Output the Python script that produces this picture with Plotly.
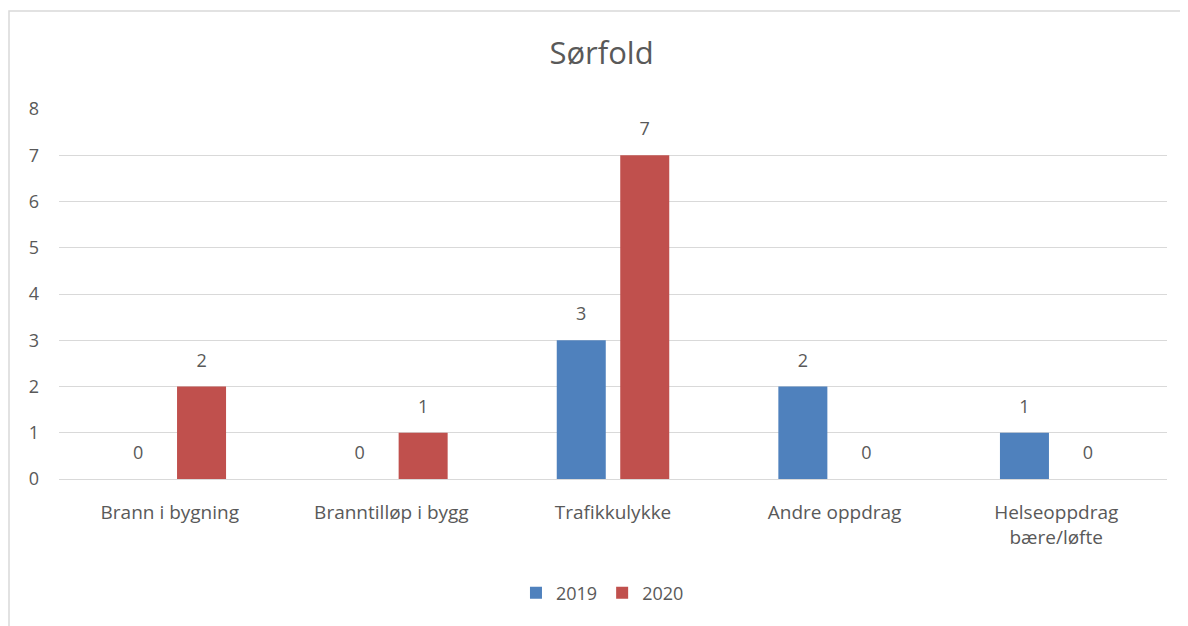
import plotly.graph_objects as go

categories = ["Brann i bygning", "Branntilløp i bygg", "Trafikkulykke", "Andre oppdrag", "Helseoppdrag<br>bære/løfte"]
series_names = ["2019", "2020"]
values_2019 = [0, 0, 3, 2, 1]
values_2020 = [2, 1, 7, 0, 0]
colors = ["#4F81BD", "#C0504D"]
y_ticks = [0, 1, 2, 3, 4, 5, 6, 7, 8]

FONT = "'Open Sans', Lato, sans-serif"
GRAY = "#595959"
FS = 18

fig = go.Figure()
all_vals = [values_2019, values_2020]
for i, (name, vals) in enumerate(zip(series_names, all_vals)):
    fig.add_trace(go.Bar(
        x=categories, y=vals, name=name, marker_color=colors[i],
        offsetgroup=str(i), marker_line_width=0,
    ))
for i, (name, vals) in enumerate(zip(series_names, all_vals)):
    fig.add_trace(go.Scatter(
        x=categories, y=vals, mode="markers+text", text=[str(v) for v in vals],
        textposition="top center", textfont=dict(family=FONT, size=FS, color=GRAY),
        marker=dict(size=23, opacity=0), showlegend=False, hoverinfo="skip",
        offsetgroup=str(i), orientation="v", cliponaxis=False,
    ))

W, H = 1180, 618
fig.update_layout(
    width=W, height=H,
    margin=dict(l=51, r=21, t=101, b=147),
    paper_bgcolor="white", plot_bgcolor="white",
    barmode="group", bargap=0.427, bargroupgap=0.228,
    scattermode="group", scattergap=0.427,
    font=dict(family=FONT, size=FS, color=GRAY),
    title=dict(text="Sørfold", x=0.503, xanchor="center", y=1 - 45 / H, yanchor="middle",
               font=dict(family=FONT, size=31, color=GRAY)),
    legend=dict(orientation="h", x=0.4905, xanchor="center", y=-0.308, yanchor="middle",
                font=dict(family=FONT, size=FS, color=GRAY), itemwidth=30,
                traceorder="normal"),
    xaxis=dict(showgrid=False, showline=False, ticks="", ticklabelstandoff=20,
               tickfont=dict(family=FONT, size=FS + 1, color=GRAY)),
    yaxis=dict(range=[0, 8], tickvals=y_ticks, showgrid=True, gridcolor="#D9D9D9", gridwidth=1,
               zeroline=True, zerolinecolor="#D9D9D9", zerolinewidth=1, showline=False,
               ticks="", ticklabelstandoff=19, tickfont=dict(family=FONT, size=FS, color=GRAY)),
    shapes=[dict(type="rect", xref="paper", yref="paper",
                 x0=(9 - 59) / 1108, x1=1.1, y0=-0.5, y1=(479 - 11) / 370,
                 line=dict(color="#D9D9D9", width=1.5), fillcolor="rgba(0,0,0,0)", layer="below")],
)

fig.write_html("out.html")
